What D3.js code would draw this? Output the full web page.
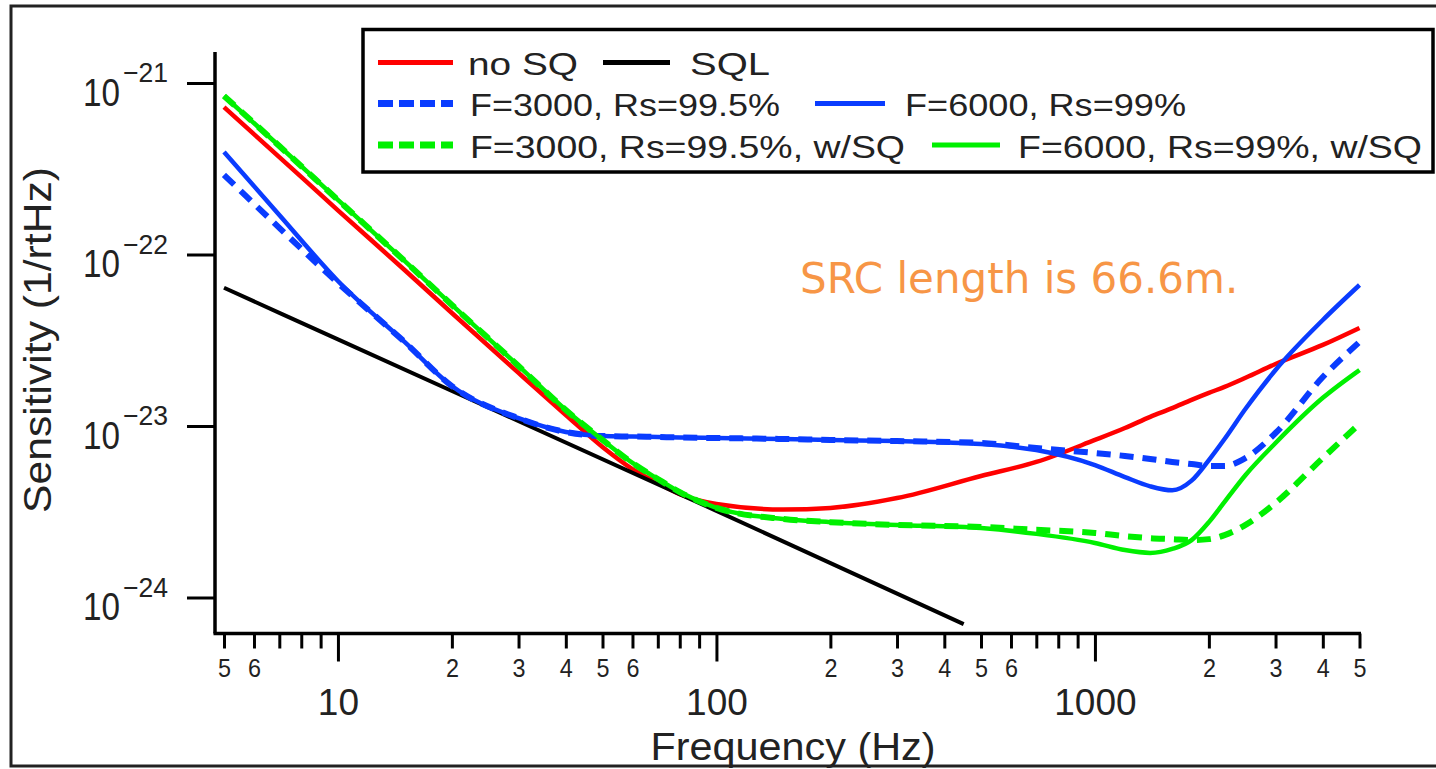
<!DOCTYPE html>
<html>
<head>
<meta charset="utf-8">
<script src="https://cdn.jsdelivr.net/npm/d3@7"></script>
<style>
body { margin: 0; background: #fff; }
svg { display: block; }
</style>
</head>
<body>
<script>
// frequencies (Hz) shared by the five model curves
var freqs = [5, 7, 10, 15, 20, 30, 40, 50, 60, 70, 80, 100, 150, 200, 300, 500, 700,
             1000, 1200, 1400, 1600, 1800, 2000, 2200, 2500, 3000, 4000, 5000];

var noSQ = [7.24e-22, 3.70e-22, 1.81e-22, 8.12e-23, 4.56e-23, 2.04e-23, 1.16e-23, 7.55e-24,
            5.61e-24, 4.65e-24, 4.01e-24, 3.51e-24, 3.26e-24, 3.33e-24, 3.80e-24, 5.11e-24,
            6.17e-24, 8.29e-24, 9.73e-24, 1.13e-23, 1.27e-23, 1.42e-23, 1.56e-23, 1.69e-23,
            1.91e-23, 2.30e-23, 2.97e-23, 3.73e-23];

var f3000 = [2.91e-22, 1.43e-22, 6.82e-23, 3.09e-23, 1.71e-23, 1.11e-23, 9.23e-24, 8.74e-24,
             8.68e-24, 8.63e-24, 8.57e-24, 8.51e-24, 8.40e-24, 8.29e-24, 8.17e-24, 7.97e-24,
             7.44e-24, 6.96e-24, 6.69e-24, 6.42e-24, 6.17e-24, 6.00e-24, 5.85e-24, 5.85e-24,
             6.51e-24, 9.10e-24, 1.93e-23, 3.09e-23];

var f6000 = [3.96e-22, 1.70e-22, 7.01e-23, 3.09e-23, 1.71e-23, 1.11e-23, 9.23e-24, 8.74e-24,
             8.68e-24, 8.63e-24, 8.57e-24, 8.51e-24, 8.40e-24, 8.29e-24, 8.17e-24, 7.85e-24,
             7.24e-24, 5.92e-24, 5.04e-24, 4.45e-24, 4.22e-24, 4.80e-24, 6.33e-24, 8.40e-24,
             1.26e-23, 2.12e-23, 4.15e-23, 6.64e-23];

var f3000sq = [8.40e-22, 4.29e-22, 2.08e-22, 9.17e-23, 5.08e-23, 2.24e-23, 1.24e-23, 8.29e-24,
               6.09e-24, 4.91e-24, 4.12e-24, 3.33e-24, 2.87e-24, 2.75e-24, 2.65e-24, 2.58e-24,
               2.48e-24, 2.38e-24, 2.28e-24, 2.22e-24, 2.19e-24, 2.16e-24, 2.19e-24, 2.31e-24,
               2.65e-24, 3.56e-24, 6.51e-24, 1.03e-23];

var f6000sq = [8.40e-22, 4.29e-22, 2.08e-22, 9.17e-23, 5.08e-23, 2.24e-23, 1.24e-23, 8.29e-24,
               6.09e-24, 4.91e-24, 4.12e-24, 3.33e-24, 2.87e-24, 2.75e-24, 2.65e-24, 2.54e-24,
               2.35e-24, 2.08e-24, 1.89e-24, 1.82e-24, 1.92e-24, 2.16e-24, 2.75e-24, 3.61e-24,
               5.18e-24, 7.96e-24, 1.46e-23, 2.12e-23];

// standard quantum limit, straight in log-log
var sqlFreqs = [5, 10, 100, 450];
var sqlVals = [6.4e-23, 3.2e-23, 3.2e-24, 7.0e-25];

var majorX = [10, 100, 1000];
var minorX = [5, 6, 7, 8, 9, 20, 30, 40, 50, 60, 70, 80, 90,
              200, 300, 400, 500, 600, 700, 800, 900, 2000, 3000, 4000, 5000];
var yTicks = [1e-21, 1e-22, 1e-23, 1e-24];

var W = 1436, H = 769;

var svg = d3.select("body").append("svg")
    .attr("width", W)
    .attr("height", H);

// outer frame (runs off the right edge like the screenshot)
svg.append("rect")
    .attr("x", 11).attr("y", 6)
    .attr("width", 1440).attr("height", 760)
    .attr("fill", "none").attr("stroke", "#222").attr("stroke-width", 3);

var x = d3.scaleLog().domain([5, 5000]).range([224, 1359.5]);
var y = d3.scaleLog().domain([1e-21, 1e-24]).range([83, 597.5]);

var axisX = 215, axisY = 633.5;

// x axis
var gx = svg.append("g").attr("transform", "translate(0," + axisY + ")");
gx.append("g")
    .call(d3.axisBottom(x).tickValues(minorX).tickSize(15).tickPadding(10)
        .tickFormat(function(d) {
            var m = Math.round(d / Math.pow(10, Math.floor(Math.log10(d) + 1e-9)));
            return m <= 6 ? m : "";
        }))
    .call(function(g) {
        g.select(".domain").remove();
        g.selectAll("line").attr("stroke", "#000").attr("stroke-width", 3);
        g.selectAll("text").attr("font-family", "Liberation Sans, Arial, sans-serif")
            .attr("font-size", 26).attr("fill", "#222")
            .attr("textLength", function() { return this.textContent ? 13 : null; })
            .attr("lengthAdjust", "spacingAndGlyphs");
    });
gx.append("g")
    .call(d3.axisBottom(x).tickValues(majorX).tickSize(28).tickPadding(27)
        .tickFormat(d3.format("d")))
    .call(function(g) {
        g.select(".domain").remove();
        g.selectAll("line").attr("stroke", "#000").attr("stroke-width", 3);
        g.selectAll("text").attr("font-family", "Liberation Sans, Arial, sans-serif")
            .attr("font-size", 37).attr("fill", "#222");
    });
gx.append("line")
    .attr("x1", axisX - 1.5).attr("x2", x(5000) + 1.5)
    .attr("stroke", "#000").attr("stroke-width", 3.5);

// y axis
var gy = svg.append("g").attr("transform", "translate(" + axisX + ",0)");
gy.call(d3.axisLeft(y).tickValues(yTicks).tickSize(28).tickFormat(""))
    .call(function(g) {
        g.select(".domain").remove();
        g.selectAll("line").attr("stroke", "#000").attr("stroke-width", 3);
    });
gy.append("line")
    .attr("y1", 52).attr("y2", axisY)
    .attr("stroke", "#000").attr("stroke-width", 3.5);

var ylab = svg.append("g").attr("font-family", "Liberation Sans, Arial, sans-serif").attr("fill", "#222");
yTicks.forEach(function(t) {
    var e = Math.round(Math.log10(t));
    ylab.append("text")
        .attr("x", 83).attr("y", y(t) + 22.5)
        .attr("font-size", 39)
        .attr("textLength", 37).attr("lengthAdjust", "spacingAndGlyphs")
        .text("10");
    ylab.append("text")
        .attr("x", 123).attr("y", y(t) - 1)
        .attr("font-size", 28)
        .attr("textLength", 45).attr("lengthAdjust", "spacingAndGlyphs")
        .text("\u2212" + Math.abs(e));
});

// axis titles
svg.append("text")
    .attr("transform", "translate(51,340) rotate(-90)")
    .attr("text-anchor", "middle")
    .attr("font-family", "Liberation Sans, Arial, sans-serif")
    .attr("font-size", 39).attr("fill", "#222")
    .attr("textLength", 346).attr("lengthAdjust", "spacingAndGlyphs")
    .text("Sensitivity (1/rtHz)");
svg.append("text")
    .attr("x", 793).attr("y", 760)
    .attr("text-anchor", "middle")
    .attr("font-family", "Liberation Sans, Arial, sans-serif")
    .attr("font-size", 39).attr("fill", "#222")
    .attr("textLength", 285).attr("lengthAdjust", "spacingAndGlyphs")
    .text("Frequency (Hz)");

// curves
var series = [
    {name: "no SQ", f: freqs, v: noSQ, color: "#ff0000", dash: null, w: 4.5},
    {name: "SQL", f: sqlFreqs, v: sqlVals, color: "#000000", dash: null, w: 4},
    {name: "F=3000, Rs=99.5%", f: freqs, v: f3000, color: "#0a3cff", dash: "14,9", w: 6},
    {name: "F=6000, Rs=99%", f: freqs, v: f6000, color: "#0a3cff", dash: null, w: 4.5},
    {name: "F=3000, Rs=99.5%, w/SQ", f: freqs, v: f3000sq, color: "#00f000", dash: "14,9", w: 6},
    {name: "F=6000, Rs=99%, w/SQ", f: freqs, v: f6000sq, color: "#00f000", dash: null, w: 4.5}
];

var line = d3.line()
    .x(function(d) { return x(d[0]); })
    .y(function(d) { return y(d[1]); })
    .curve(d3.curveMonotoneX);

svg.append("g").selectAll("path").data(series).enter()
    .append("path")
    .attr("d", function(s) { return line(d3.zip(s.f, s.v)); })
    .attr("fill", "none")
    .attr("stroke", function(s) { return s.color; })
    .attr("stroke-width", function(s) { return s.w; })
    .attr("stroke-dasharray", function(s) { return s.dash; });

// legend
var legendPos = [
    {row: 0, x0: 378, x1: 453, tx: 468, tw: 110},
    {row: 0, x0: 603, x1: 670, tx: 690, tw: 80},
    {row: 1, x0: 378, x1: 453, tx: 470, tw: 310},
    {row: 1, x0: 815, x1: 885, tx: 905, tw: 281},
    {row: 2, x0: 378, x1: 453, tx: 470, tw: 435},
    {row: 2, x0: 932, x1: 1000, tx: 1018, tw: 404}
];
var rowY = [62.5, 103.5, 145];

var lg = svg.append("g");
lg.append("rect")
    .attr("x", 363).attr("y", 29.5)
    .attr("width", 1070).attr("height", 142.5)
    .attr("fill", "#fff").attr("stroke", "#000").attr("stroke-width", 3.5);

series.forEach(function(s, i) {
    var p = legendPos[i];
    lg.append("line")
        .attr("x1", p.x0).attr("x2", p.x1)
        .attr("y1", rowY[p.row]).attr("y2", rowY[p.row])
        .attr("stroke", s.color)
        .attr("stroke-width", s.dash ? 7 : 5)
        .attr("stroke-dasharray", s.dash ? "15,6" : null);
    lg.append("text")
        .attr("x", p.tx).attr("y", rowY[p.row] + 12.5)
        .attr("font-family", "Liberation Sans, Arial, sans-serif")
        .attr("font-size", 32).attr("fill", "#222")
        .attr("textLength", p.tw).attr("lengthAdjust", "spacingAndGlyphs")
        .text(s.name);
});

// annotation
svg.append("text")
    .attr("x", 800).attr("y", 293)
    .attr("font-family", "DejaVu Sans, Verdana, sans-serif")
    .attr("font-size", 42)
    .attr("fill", "#f79646")
    .text("SRC length is 66.6m.");
</script>
</body>
</html>
